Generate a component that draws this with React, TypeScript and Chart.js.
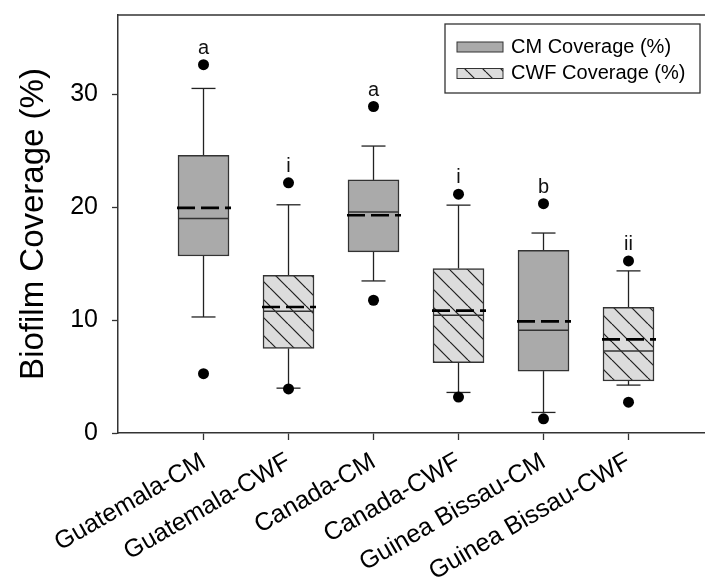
import React, { useEffect, useRef } from "react";
import { Chart, registerables } from "chart.js";

Chart.register(...registerables);

// ---------------- data ----------------
const categories = [
  "Guatemala-CM",
  "Guatemala-CWF",
  "Canada-CM",
  "Canada-CWF",
  "Guinea Bissau-CM",
  "Guinea Bissau-CWF",
];
const groups = ["CM", "CWF", "CM", "CWF", "CM", "CWF"];
const seriesLabels = ["CM Coverage (%)", "CWF Coverage (%)"];

const q1 = [15.67, 7.49, 16.03, 6.22, 5.48, 4.6];
const q3 = [24.57, 13.96, 22.4, 14.56, 16.18, 11.13];
const medians = [18.99, 10.77, 19.57, 10.42, 9.09, 7.25];
const means = [19.93, 11.15, 19.28, 10.83, 9.88, 8.29];
const whiskerLow = [10.27, 3.97, 13.46, 3.59, 1.82, 4.24];
const whiskerHigh = [30.5, 20.2, 25.4, 20.17, 17.7, 14.35];
const outlierLow = [5.25, 3.9, 11.75, 3.18, 1.26, 2.73];
const outlierHigh = [32.6, 22.15, 28.9, 21.14, 20.3, 15.23];
const letters = ["a", "i", "a", "i", "b", "ii"];

const yTicks = [0, 10, 20, 30];
const yTitle = "Biofilm Coverage (%)";

// ---------------- styles ----------------
const FONT = "'Liberation Sans', Arial, Helvetica, sans-serif";
const BOX_W = 51;
const CAP_HALF = 12;
const CM_FILL = "#aaaaaa";
const LINE = "#333333";

function makeHatch(): CanvasPattern | string {
  const s = 18;
  const c = document.createElement("canvas");
  c.width = s;
  c.height = s;
  const g = c.getContext("2d");
  if (!g) return "#dcdcdc";
  g.fillStyle = "#dcdcdc";
  g.fillRect(0, 0, s, s);
  g.strokeStyle = "#1e1e1e";
  g.lineWidth = 1.2;
  for (const k of [-s, 0, s]) {
    g.beginPath();
    g.moveTo(k, 0);
    g.lineTo(k + s, s);
    g.stroke();
  }
  return g.createPattern(c, "repeat") || "#dcdcdc";
}

function seg(ctx: CanvasRenderingContext2D, x1: number, y1: number, x2: number, y2: number) {
  ctx.beginPath();
  ctx.moveTo(x1, y1);
  ctx.lineTo(x2, y2);
  ctx.stroke();
}

const boxPlugin = {
  id: "boxExtras",
  beforeDatasetsDraw(chart: any) {
    const { ctx, scales } = chart;
    const x = scales.x;
    const y = scales.y;
    ctx.save();
    ctx.strokeStyle = "#222";
    ctx.lineWidth = 1.3;
    categories.forEach((_, i) => {
      const px = x.getPixelForValue(i);
      const yq3 = y.getPixelForValue(q3[i]);
      const yq1 = y.getPixelForValue(q1[i]);
      const yHi = y.getPixelForValue(whiskerHigh[i]);
      const yLo = y.getPixelForValue(whiskerLow[i]);
      seg(ctx, px, yq3, px, yHi);
      seg(ctx, px - CAP_HALF, yHi, px + CAP_HALF, yHi);
      seg(ctx, px, yq1, px, yLo);
      seg(ctx, px - CAP_HALF, yLo, px + CAP_HALF, yLo);
    });
    ctx.restore();
  },
  afterDatasetsDraw(chart: any) {
    const { ctx, scales } = chart;
    const x = scales.x;
    const y = scales.y;
    ctx.save();
    categories.forEach((_, i) => {
      const px = x.getPixelForValue(i);
      // median
      ctx.setLineDash([]);
      ctx.strokeStyle = LINE;
      ctx.lineWidth = 1.5;
      const ym = y.getPixelForValue(medians[i]);
      seg(ctx, px - BOX_W / 2, ym, px + BOX_W / 2, ym);
      // mean
      ctx.strokeStyle = "#000";
      ctx.lineWidth = 2.6;
      ctx.setLineDash([18, 6]);
      const ya = y.getPixelForValue(means[i]);
      seg(ctx, px - BOX_W / 2 - 1, ya, px + BOX_W / 2 + 2, ya);
      ctx.setLineDash([]);
      // letters
      ctx.fillStyle = "#111";
      ctx.font = `20px ${FONT}`;
      ctx.textAlign = "center";
      ctx.textBaseline = "alphabetic";
      const yo = y.getPixelForValue(outlierHigh[i]);
      ctx.fillText(letters[i], px, yo - 11);
    });
    ctx.restore();
  },
  afterDraw(chart: any) {
    const { ctx, chartArea } = chart;
    ctx.save();
    // top frame line
    ctx.strokeStyle = LINE;
    ctx.lineWidth = 1.5;
    seg(ctx, chartArea.left, chartArea.top, chartArea.right, chartArea.top);
    // legend
    const bx = chartArea.right - 260;
    const by = chartArea.top + 9;
    const bw = 255;
    const bh = 69;
    ctx.fillStyle = "#fff";
    ctx.fillRect(bx, by, bw, bh);
    ctx.lineWidth = 1.3;
    ctx.strokeRect(bx, by, bw, bh);
    const dsets = chart.data.datasets.slice(0, 2);
    dsets.forEach((ds: any, k: number) => {
      const sy = by + 18 + k * 26.5;
      ctx.fillStyle = ds.backgroundColor;
      ctx.fillRect(bx + 12, sy, 46, 10);
      ctx.strokeStyle = LINE;
      ctx.lineWidth = 1;
      ctx.strokeRect(bx + 12, sy, 46, 10);
      ctx.fillStyle = "#000";
      ctx.font = `20px ${FONT}`;
      ctx.textAlign = "left";
      ctx.textBaseline = "middle";
      ctx.fillText(ds.label, bx + 66, sy + 5);
    });
    ctx.restore();
  },
};

export default function App() {
  const ref = useRef<HTMLCanvasElement | null>(null);

  useEffect(() => {
    document.body.style.margin = "0";
    const canvas = ref.current;
    if (!canvas) return;
    const hatch = makeHatch();

    const boxData = (g: string) =>
      categories
        .map((_, i) => i)
        .filter((i) => groups[i] === g)
        .map((i) => ({ x: i, y: [q1[i], q3[i]] }));

    const outlierData = [
      ...categories.map((_, i) => ({ x: i, y: outlierHigh[i] })),
      ...categories.map((_, i) => ({ x: i, y: outlierLow[i] })),
    ];

    const chart = new Chart(canvas, {
      type: "bar",
      data: {
        datasets: [
          {
            type: "bar",
            label: seriesLabels[0],
            data: boxData("CM") as any,
            backgroundColor: CM_FILL,
            borderColor: LINE,
            borderWidth: 1.5,
            borderSkipped: false,
            barThickness: BOX_W,
            grouped: false,
          } as any,
          {
            type: "bar",
            label: seriesLabels[1],
            data: boxData("CWF") as any,
            backgroundColor: hatch,
            borderColor: LINE,
            borderWidth: 1.5,
            borderSkipped: false,
            barThickness: BOX_W,
            grouped: false,
          } as any,
          {
            type: "scatter",
            label: "outliers",
            data: outlierData as any,
            pointRadius: 5.5,
            pointHoverRadius: 5.5,
            backgroundColor: "#000",
            borderWidth: 0,
          } as any,
        ],
      },
      options: {
        responsive: false,
        animation: false,
        devicePixelRatio: 1,
        layout: { autoPadding: false, padding: { top: 15, left: 0, right: 0, bottom: 0 } },
        plugins: {
          legend: { display: false },
          tooltip: { enabled: false },
        },
        scales: {
          x: {
            type: "linear",
            min: -1.006,
            max: 5.9,
            offset: false,
            afterBuildTicks: (s: any) => {
              s.ticks = categories.map((_, i) => ({ value: i }));
            },
            afterFit: (s: any) => {
              s.height = 147;
              s.paddingLeft = 0;
              s.paddingRight = 0;
            },
            ticks: {
              autoSkip: false,
              maxRotation: 30,
              minRotation: 30,
              padding: 7,
              color: "#000",
              font: { size: 25, family: FONT },
              callback: (_v: any, idx: number) => categories[idx],
            },
            grid: {
              offset: false,
              drawOnChartArea: false,
              drawTicks: true,
              tickLength: 7,
              tickColor: LINE,
              tickWidth: 1.3,
            },
            border: { display: true, color: LINE, width: 1.5 },
          } as any,
          y: {
            type: "linear",
            min: 0,
            max: 37,
            afterBuildTicks: (s: any) => {
              s.ticks = yTicks.map((v) => ({ value: v }));
            },
            afterFit: (s: any) => {
              s.width = 118;
              s.paddingTop = 0;
              s.paddingBottom = 0;
            },
            ticks: {
              padding: 14,
              color: "#000",
              font: { size: 25, family: FONT },
            },
            grid: {
              drawOnChartArea: false,
              drawTicks: true,
              tickLength: 6,
              tickColor: LINE,
              tickWidth: 1.3,
            },
            border: { display: true, color: LINE, width: 1.5 },
            title: {
              display: true,
              text: yTitle,
              color: "#000",
              font: { size: 33, family: FONT },
              padding: { top: 14, bottom: 0 },
            },
          } as any,
        },
      },
      plugins: [boxPlugin as any],
    });

    return () => chart.destroy();
  }, []);

  return (
    <div style={{ width: 705, height: 580 }}>
      <canvas ref={ref} width={705} height={580} />
    </div>
  );
}
